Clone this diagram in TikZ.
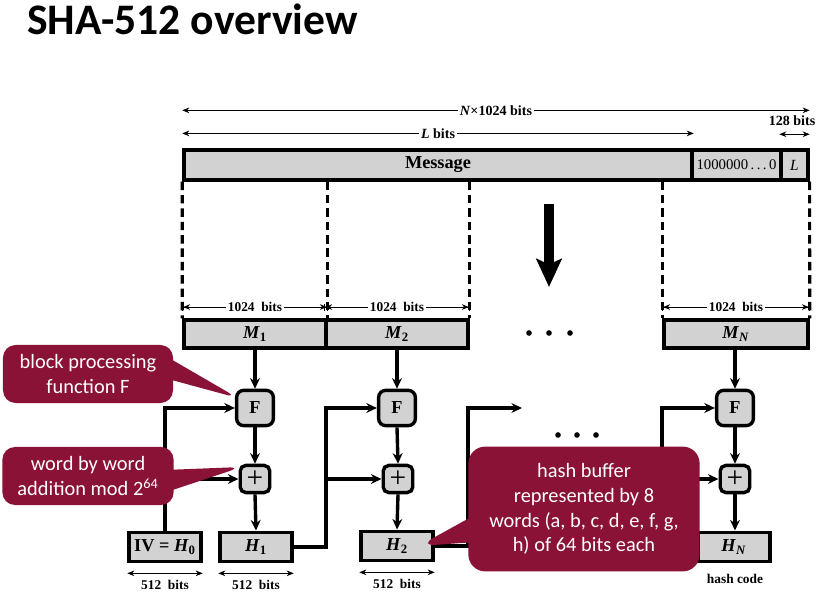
\documentclass[tikz,border=0pt]{standalone}
\usepackage{fontspec}
\setmainfont{Liberation Serif}
\newfontfamily\calibri{Carlito}
\usetikzlibrary{arrows.meta,shapes.callouts}

\definecolor{calloutred}{RGB}{138,18,54}
\definecolor{boxgray}{RGB}{210,210,210}

\begin{document}
\begin{tikzpicture}[
    x = 0.025cm, y = -0.025cm,
    line width = 2.4pt,
    >= {Stealth[length = 7.5pt, width = 7pt]},
    %
    block/.style = {draw, fill = boxgray, inner sep = 0pt,
      font = \fontsize{13}{15}\selectfont\bfseries},
    msgblock/.style = {block, minimum width = 3.55cm,
      minimum height = 0.7cm},
    hblock/.style = {block, minimum width = 1.8cm,
      minimum height = 0.74cm},
    func/.style = {block, rounded corners = 5pt,
      minimum width = 0.92cm, minimum height = 0.88cm},
    adder/.style = {block, rounded corners = 4pt,
      minimum width = 0.74cm, minimum height = 0.68cm,
      font = \fontsize{21}{21}\selectfont},
    %
    cut/.style = {dash pattern = on 6pt off 3.5pt, line width = 2.2pt},
    dim/.style = {line width = 0.6pt,
      {Stealth[length = 5pt, width = 4pt]}-{Stealth[length = 5pt, width = 4pt]}},
    dimbar/.style = {line width = 0.6pt,
      {Bar[width = 5pt] Stealth[length = 5pt, width = 4pt]}-{Stealth[length = 5pt, width = 4pt] Bar[width = 5pt]}},
    bits/.style = {font = \fontsize{9.5}{11}\selectfont\bfseries,
      fill = white, inner sep = 1.5pt},
    note/.style = {rectangle callout, fill = calloutred, text = white,
      rounded corners = 9pt, align = center,
      font = \calibri\fontsize{14.5}{17.7}\selectfont},
    ]

    \useasboundingbox (0, 0) rectangle (818, 603);

    \node at (21, 35) [anchor = base west, name = title,
      font = \calibri\bfseries\fontsize{31}{31}\selectfont]
    {SHA-512 overview};

    % padded message
    \node at (438, 165)
    [block, minimum width = 12.7cm, minimum height = 0.75cm,
      name = msg] {Message};
    \node at (736.5, 165)
    [block, minimum width = 2.225cm, minimum height = 0.75cm,
      font = \fontsize{10.5}{12}\selectfont, name = pad]
    {1000000\,.\,.\,.\,0};
    \node at (794.5, 165)
    [block, minimum width = 0.675cm, minimum height = 0.75cm,
      font = \fontsize{11}{12}\selectfont\itshape, name = len] {L};

    \draw [dim] ([yshift = 27pt] msg.north west)
    -- ([yshift = 27pt] len.north east)
    node [midway, bits, font = \fontsize{10}{12}\selectfont\bfseries]
    {\textit{N}×1024 bits};
    \draw [dim] ([yshift = 10.6pt] msg.north west)
    -- ([yshift = 10.6pt] msg.north east)
    node [midway, bits, font = \fontsize{10}{12}\selectfont\bfseries]
    {\textit{L} bits};
    \draw [dim] ([yshift = 10pt] len.north west)
    -- ([yshift = 10pt] len.north east);
    \node at (792, 121) [bits, fill = none,
      font = \fontsize{10}{12}\selectfont\bfseries, name = lenbits]
    {128 bits};

    % blocks
    \node at (255, 334) [msgblock, name = M1] {\textit{M}\textsubscript{1}};
    \node at (397, 334) [msgblock, name = M2] {\textit{M}\textsubscript{2}};
    \node at (736, 334) [msgblock, minimum width = 3.6cm, name = MN]
    {\textit{M}\textsubscript{\textit{N}}};

    \draw [cut] (msg.south west) -- (M1.north west);
    \draw [cut] (M1.north east |- msg.south) -- (M1.north east);
    \draw [cut] (M2.north east |- msg.south) -- (M2.north east);
    \draw [cut] (MN.north west |- msg.south) -- (MN.north west);
    \draw [cut] (len.south east) -- (MN.north east);

    \draw [dimbar] ([yshift = 8pt] M1.north west) -- ([yshift = 8pt] M1.north east)
    node [midway, bits] {1024\ \ bits};
    \draw [dimbar] ([yshift = 8pt] M2.north west) -- ([yshift = 8pt] M2.north east)
    node [midway, bits] {1024\ \ bits};
    \draw [dimbar] ([yshift = 8pt] MN.north west) -- ([yshift = 8pt] MN.north east)
    node [midway, bits] {1024\ \ bits};

    \coordinate (split top) at (549, 204);
    \coordinate (split bot) at (549, 287);
    \draw [line width = 7.5pt,
      -{Stealth[length = 20pt, width = 18pt, inset = 4pt]}]
    (split top) -- (split bot);

    \foreach \dx in {-20, 0, 21}
    \fill (549 + \dx, 333) circle (2pt);
    \foreach \dx in {-19, 0, 19}
    \fill (577 + \dx, 435) circle (2pt);

    % compression stages
    \node at (255, 408) [func, name = F1] {F};
    \node at (397, 408) [func, name = F2] {F};
    \node at (735, 408) [func, name = FN] {F};

    \node at (255, 479) [adder, name = P1] {+};
    \node at (398, 479) [adder, name = P2] {+};
    \node at (735, 479) [adder, name = PN] {+};

    \node at (165, 547) [hblock, name = IV] {IV = \textit{H}\textsubscript{0}};
    \node at (256, 547) [hblock, name = H1] {\textit{H}\textsubscript{1}};
    \node at (397, 546) [hblock, name = H2] {\textit{H}\textsubscript{2}};
    \node at (734, 547) [hblock, name = HN] {\textit{H}\textsubscript{\textit{N}}};

    \draw [->] (M1.south) -- (F1.north);
    \draw [->] (F1.south) -- (P1.north);
    \draw [->] (P1.south) -- (H1.north);
    \draw [->] (M2.south) -- (F2.north);
    \draw [->] (F2.south) -- (P2.north);
    \draw [->] (P2.south) -- (H2.north);
    \draw [->] (MN.south -| FN.north) -- (FN.north);
    \draw [->] (FN.south) -- (PN.north);
    \draw [->] (PN.south) -- (HN.north -| PN.south);

    \draw [->] (IV.north) |- (F1.west);
    \draw [->] (IV.north |- P1.west) -- (P1.west);

    \coordinate (out1) at (326, 547);
    \draw [->] (H1.east) -- (out1) |- (F2.west);
    \draw [->] (out1 |- P2.west) -- (P2.west);

    \coordinate (out2) at (468, 546);
    \coordinate (next) at (522, 408);
    \draw [->] (H2.east) -- (out2) |- (next);

    \coordinate (inN) at (662, 479);
    \draw [->] (inN) |- (FN.west);
    \draw [->] (inN) -- (PN.west);

    \draw [dim] ([yshift = -7pt] IV.south west) -- ([yshift = -7pt] IV.south east)
    node [midway, below = 3pt, bits, fill = none] {512\ \ bits};
    \draw [dim] ([yshift = -7pt] H1.south west) -- ([yshift = -7pt] H1.south east)
    node [midway, below = 3pt, bits, fill = none] {512\ \ bits};
    \draw [dim] ([yshift = -7pt] H2.south west) -- ([yshift = -7pt] H2.south east)
    node [midway, below = 3pt, bits, fill = none] {512\ \ bits};

    \node at (735, 579) [bits, fill = none, name = hashcode] {hash code};

    % callouts
    \node at (88, 374)
    [note, minimum width = 4.25cm, minimum height = 1.45cm,
      callout pointer width = 0.5cm,
      callout absolute pointer = {([shift = {(3, -10)}] F1.west)},
      name = noteF]
    {block processing\\function F};

    \node at (88, 476)
    [note, minimum width = 4.28cm, minimum height = 1.45cm,
      callout pointer width = 0.5cm,
      callout absolute pointer = {([shift = {(3, -12)}] P1.west)},
      name = noteadd]
    {word by word\\addition mod 2\textsuperscript{64}};

    \node at (584, 509)
    [note, minimum width = 5.78cm, minimum height = 3.12cm,
      rounded corners = 12pt, callout pointer width = 0.6cm,
      callout absolute pointer = {([shift = {(-16, 0)}] H2.east)},
      name = notebuf]
    {hash buffer\\represented by 8\\words (a, b, c, d, e, f, g,\\h) of 64 bits each};

  \end{tikzpicture}
\end{document}
